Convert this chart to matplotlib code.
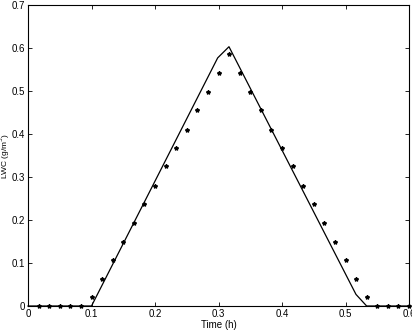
import matplotlib
matplotlib.use("Agg")
import matplotlib.pyplot as plt
import numpy as np

plt.rcParams['font.family'] = ['Liberation Sans', 'DejaVu Sans']

# Measured points (asterisks), time in hours
obs_t = [i / 60 for i in range(1, 37)]
obs_lwc = [0, 0, 0, 0, 0, 0.020, 0.063, 0.107, 0.150, 0.193, 0.237, 0.280,
           0.325, 0.368, 0.410, 0.455, 0.498, 0.542, 0.585, 0.542, 0.498, 0.455,
           0.410, 0.368, 0.325, 0.280, 0.237, 0.193, 0.150, 0.107, 0.063, 0.020,
           0, 0, 0, 0]

# Model line
line_t = [0.0, 0.1, 0.2987, 0.3165, 0.5165, 0.5333, 0.6]
line_lwc = [0.0, 0.0, 0.577, 0.603, 0.027, 0.0, 0.0]

xticks = [0, 0.1, 0.2, 0.3, 0.4, 0.5, 0.6]
xticklabels = ['0', '0.1', '0.2', '0.3', '0.4', '0.5', '0.6']
yticks = [0, 0.1, 0.2, 0.3, 0.4, 0.5, 0.6, 0.7]
yticklabels = ['0', '0.1', '0.2', '0.3', '0.4', '0.5', '0.6', '0.7']

fig = plt.figure(figsize=(4.12, 3.31), dpi=100)
ax = fig.add_axes([28/412, 25/331, (409-28)/412, (306-5)/331])

ax.plot(line_t, line_lwc, color='black', linewidth=0.9, clip_on=False)
ax.plot(obs_t, obs_lwc, linestyle='none', marker='*', color='black',
        markersize=3, clip_on=False)

ax.set_xlim(0, 0.6)
ax.set_ylim(0, 0.7)
ax.set_xticks(xticks)
ax.set_xticklabels(xticklabels)
ax.set_yticks(yticks)
ax.set_yticklabels(yticklabels)
ax.tick_params(direction='in', top=True, right=True, labelsize=7, length=3,
               width=0.6, pad=2)
for s in ax.spines.values():
    s.set_linewidth(0.8)
ax.set_xlabel('Time (h)', fontsize=7, labelpad=1)
ax.set_ylabel('LWC (g/m$^3$)', fontsize=6)
ax.yaxis.set_label_coords(-0.043, 0.5)

fig.savefig('out.png', dpi=100)
